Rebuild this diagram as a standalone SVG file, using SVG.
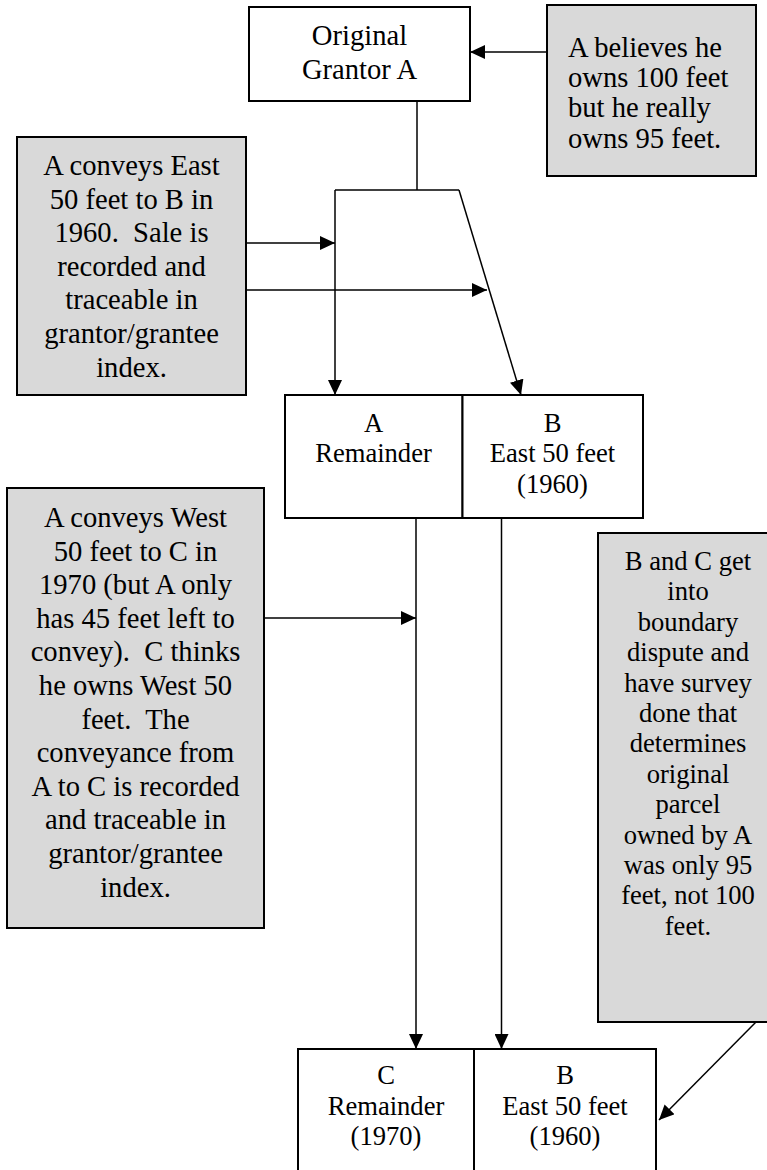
<svg xmlns="http://www.w3.org/2000/svg" width="767" height="1170" viewBox="0 0 767 1170">
<style>
.box{fill:#ffffff;stroke:#000;stroke-width:2}
.note{fill:#d9d9d9;stroke:#000;stroke-width:2}
.t{font-family:"Liberation Serif","Times New Roman",serif;fill:#000;text-anchor:middle}
.big{font-size:28.6px}
.sm{font-size:26.6px}
.left{text-anchor:start}
.c{fill:none;stroke:#000;stroke-width:1.5}
</style>
<defs>
<marker id="ah" markerUnits="userSpaceOnUse" markerWidth="15" markerHeight="14" refX="15" refY="7" orient="auto" viewBox="0 0 15 14">
<path d="M0,0 L15,7 L0,14 z" fill="#000"/>
</marker>
</defs>
<rect width="767" height="1170" fill="#fff"/>
<g id="connectors">
<path class="c" d="M547,52 L470,52" marker-end="url(#ah)"/>
<path class="c" d="M417,101 L417,190"/>
<path class="c" d="M335,190 L459,190"/>
<path class="c" d="M335,190 L335,395" marker-end="url(#ah)"/>
<path class="c" d="M459,190 L521,395" marker-end="url(#ah)"/>
<path class="c" d="M246,243 L335,243" marker-end="url(#ah)"/>
<path class="c" d="M246,290 L487,290" marker-end="url(#ah)"/>
<path class="c" d="M416,518 L416,1049" marker-end="url(#ah)"/>
<path class="c" d="M501.5,518 L501.5,1049" marker-end="url(#ah)"/>
<path class="c" d="M264,618 L416,618" marker-end="url(#ah)"/>
<path class="c" d="M756,1022 L659,1120" marker-end="url(#ah)"/>
</g>
<g id="grantor">
<rect class="box" x="249" y="7" width="221" height="94"/>
<text class="t big" x="359.5" y="45">Original</text>
<text class="t big" x="359.5" y="79">Grantor A</text>
</g>
<g id="note-belief">
<rect class="note" x="547" y="5" width="209" height="171"/>
<text class="t big left" x="568" y="57">A believes he</text>
<text class="t big left" x="568" y="87">owns 100 feet</text>
<text class="t big left" x="568" y="117">but he really</text>
<text class="t big left" x="568" y="148">owns 95 feet.</text>
</g>
<g id="note-1960">
<rect class="note" x="17" y="137" width="229" height="258"/>
<text class="t big" x="131.5" y="175">A conveys East</text>
<text class="t big" x="131.5" y="208.6">50 feet to B in</text>
<text class="t big" x="131.5" y="242.2" xml:space="preserve">1960.  Sale is</text>
<text class="t big" x="131.5" y="275.8">recorded and</text>
<text class="t big" x="131.5" y="309.4">traceable in</text>
<text class="t big" x="131.5" y="343">grantor/grantee</text>
<text class="t big" x="131.5" y="376.6">index.</text>
</g>
<g id="a-remainder">
<rect class="box" x="285" y="395" width="177.5" height="123"/>
<text class="t sm" x="373.5" y="432">A</text>
<text class="t sm" x="373.5" y="462">Remainder</text>
</g>
<g id="b-east-1960">
<rect class="box" x="462.5" y="395" width="180.5" height="123"/>
<text class="t sm" x="552.5" y="432">B</text>
<text class="t sm" x="552.5" y="462">East 50 feet</text>
<text class="t sm" x="552.5" y="493">(1960)</text>
</g>
<g id="note-1970">
<rect class="note" x="7" y="488" width="257" height="440"/>
<text class="t big" x="135.5" y="527">A conveys West</text>
<text class="t big" x="135.5" y="560.6">50 feet to C in</text>
<text class="t big" x="135.5" y="594.2">1970 (but A only</text>
<text class="t big" x="135.5" y="627.8">has 45 feet left to</text>
<text class="t big" x="135.5" y="661.4" xml:space="preserve">convey).  C thinks</text>
<text class="t big" x="135.5" y="695">he owns West 50</text>
<text class="t big" x="135.5" y="728.6" xml:space="preserve">feet.  The</text>
<text class="t big" x="135.5" y="762.2">conveyance from</text>
<text class="t big" x="135.5" y="795.8">A to C is recorded</text>
<text class="t big" x="135.5" y="829.4">and traceable in</text>
<text class="t big" x="135.5" y="863">grantor/grantee</text>
<text class="t big" x="135.5" y="896.6">index.</text>
</g>
<g id="note-survey">
<rect class="note" x="598" y="533" width="180" height="489"/>
<text class="t sm" x="688" y="570">B and C get</text>
<text class="t sm" x="688" y="600.4">into</text>
<text class="t sm" x="688" y="630.8">boundary</text>
<text class="t sm" x="688" y="661.2">dispute and</text>
<text class="t sm" x="688" y="691.6">have survey</text>
<text class="t sm" x="688" y="722">done that</text>
<text class="t sm" x="688" y="752.4">determines</text>
<text class="t sm" x="688" y="782.8">original</text>
<text class="t sm" x="688" y="813.2">parcel</text>
<text class="t sm" x="688" y="843.6">owned by A</text>
<text class="t sm" x="688" y="874">was only 95</text>
<text class="t sm" x="688" y="904.4">feet, not 100</text>
<text class="t sm" x="688" y="934.8">feet.</text>
</g>
<g id="c-remainder">
<rect class="box" x="298" y="1049" width="176" height="140"/>
<text class="t sm" x="386" y="1084">C</text>
<text class="t sm" x="386" y="1115">Remainder</text>
<text class="t sm" x="386" y="1145">(1970)</text>
</g>
<g id="b-east-final">
<rect class="box" x="474" y="1049" width="182" height="140"/>
<text class="t sm" x="565" y="1084">B</text>
<text class="t sm" x="565" y="1115">East 50 feet</text>
<text class="t sm" x="565" y="1145">(1960)</text>
</g>
</svg>
